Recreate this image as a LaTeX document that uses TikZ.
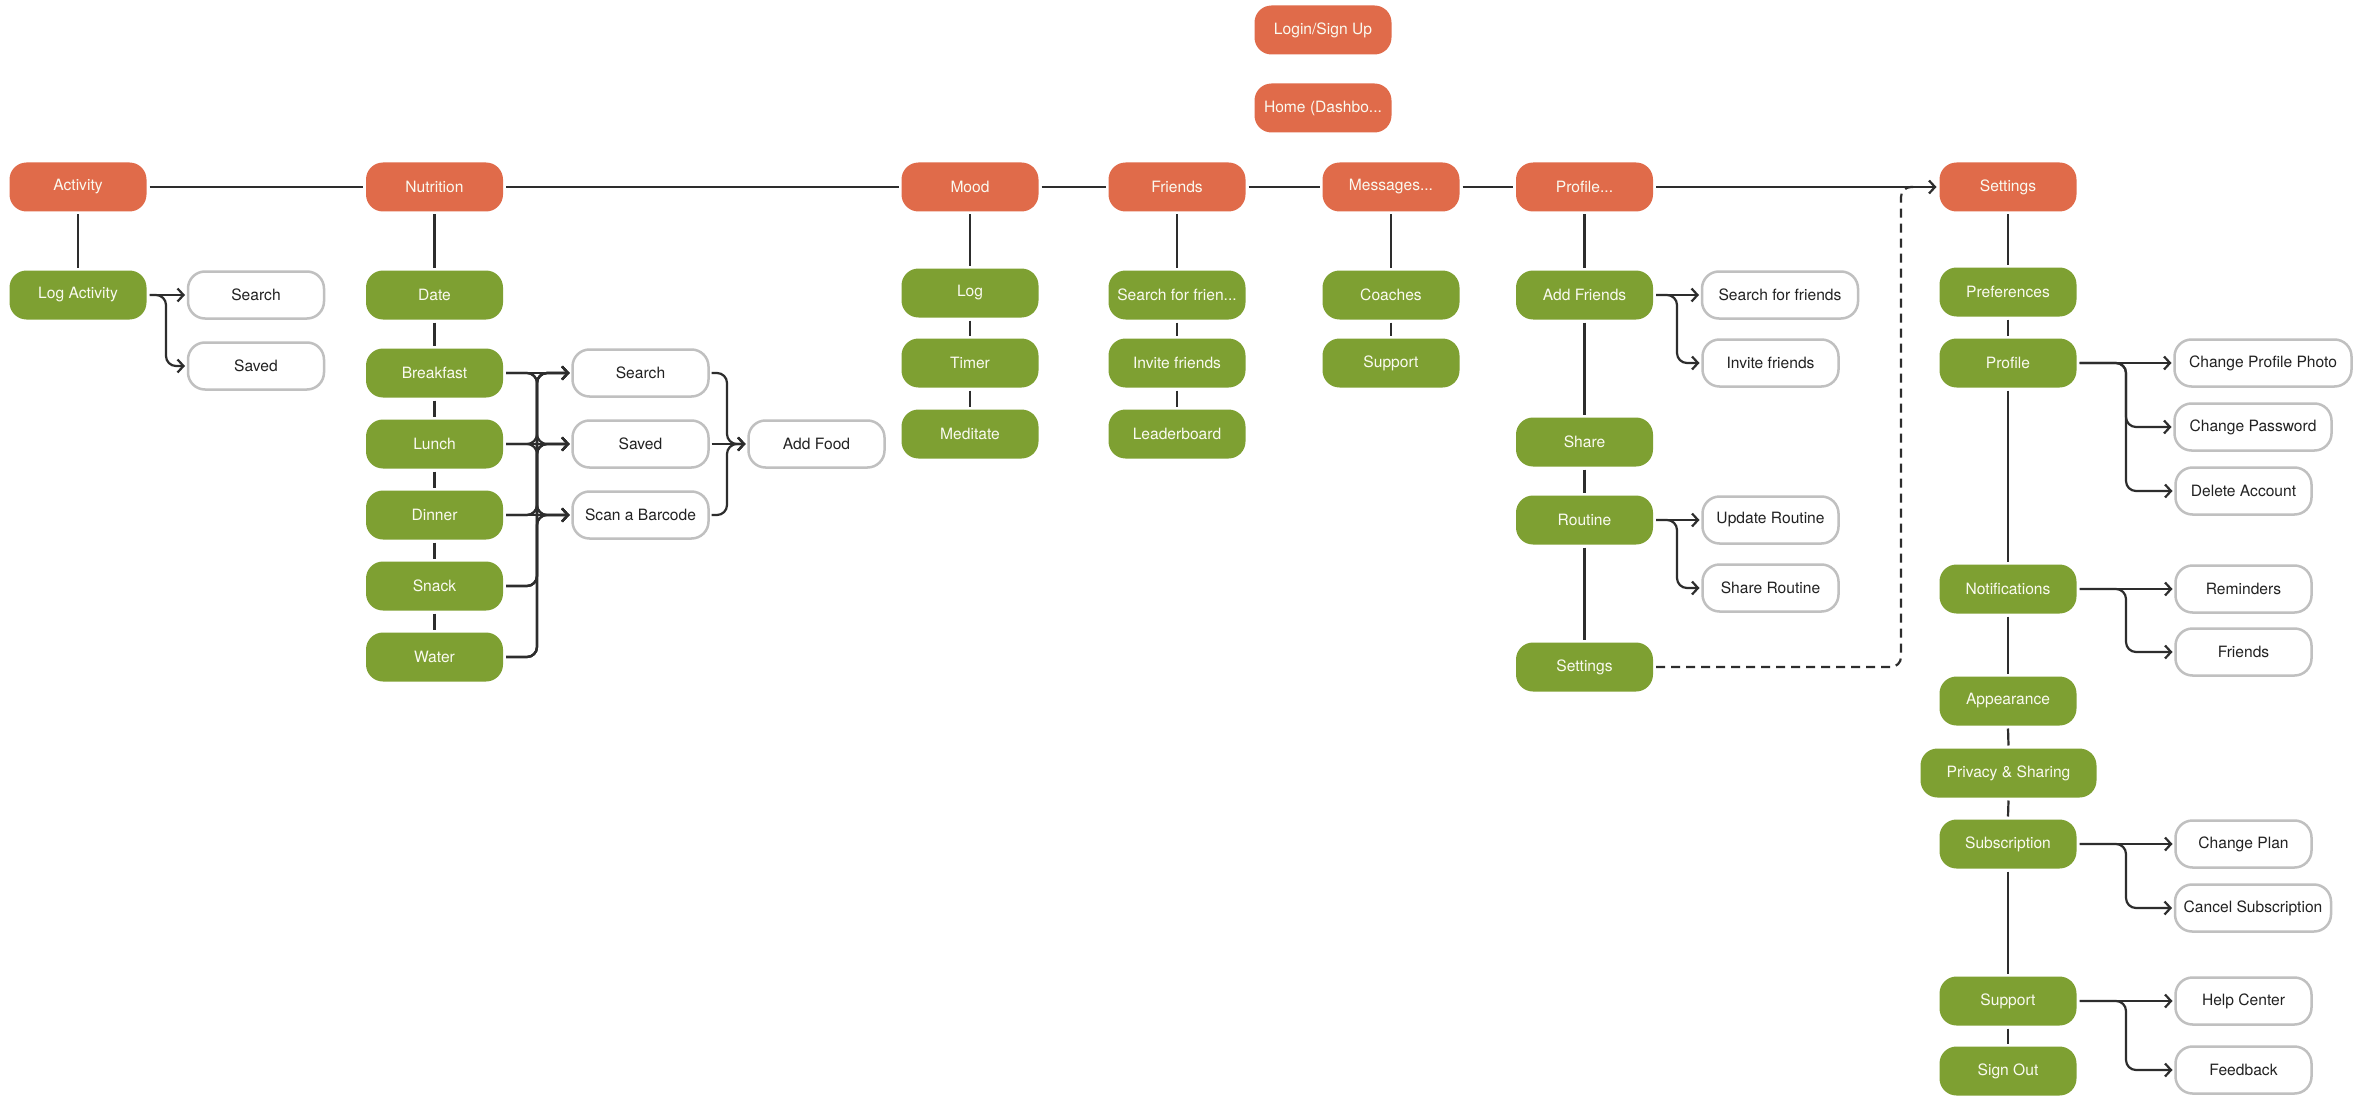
\documentclass[tikz,border=0pt]{standalone}
\usepackage{fontspec}
\setmainfont{TeX Gyre Heros}
\usetikzlibrary{arrows.meta,calc}
\definecolor{orangeC}{RGB}{224,107,74}
\definecolor{greenC}{RGB}{126,160,50}
\definecolor{grayB}{RGB}{192,192,192}
\definecolor{lineC}{RGB}{45,45,45}
\definecolor{textC}{RGB}{34,34,34}
\definecolor{lightT}{RGB}{250,250,240}
\tikzset{
  base/.style={rounded corners=17pt, minimum height=49pt, minimum width=137pt,
    align=center, font=\fontsize{15.6}{18}\selectfont, outer sep=3pt, inner xsep=5pt, inner ysep=0pt},
  obox/.style={base, fill=orangeC, text=lightT},
  gbox/.style={base, fill=greenC, text=lightT},
  wbox/.style={base, draw=grayB, line width=2.5pt, fill=white, text=textC,
    minimum height=47pt, minimum width=136pt},
  conn/.style={draw=lineC, line width=2.2pt, rounded corners=10pt},
  arr/.style={-{Straight Barb[length=6pt,width=13pt]}},
}
\newcommand{\brto}[3]{\draw[conn,arr] (#1.east) -- (#2 |- #1.east) -- (#2 |- #3.west) -- (#3.west);}
\newcommand{\strto}[2]{\draw[conn,arr] (#1.east) -- (#2.west);}
\begin{document}
\begin{tikzpicture}[x=1pt,y=-1pt]
\useasboundingbox[fill=white] (0,0) rectangle (2359,1102);
% top
\node[obox] (login) at (1323,30) {Login/Sign Up};
\node[obox] (home) at (1323,108) {Home (Dashbo...};
\node[obox] (activity) at (78,187) {Activity};
\node[obox] (nutrition) at (434.5,187) {Nutrition};
\node[obox] (mood) at (970,187) {Mood};
\node[obox] (friends) at (1177,187) {Friends};
\node[obox] (messages) at (1391,187) {Messages...};
\node[obox] (profile) at (1584.5,187) {Profile...};
\node[obox] (settings) at (2008,187) {Settings};
% activity
\node[gbox] (logact) at (78,295) {Log Activity};
\node[wbox] (asearch) at (256,295) {Search};
\node[wbox] (asaved) at (256,366) {Saved};
% nutrition
\node[gbox] (date) at (434.5,295) {Date};
\node[gbox] (breakfast) at (434.5,373) {Breakfast};
\node[gbox] (lunch) at (434.5,444) {Lunch};
\node[gbox] (dinner) at (434.5,515) {Dinner};
\node[gbox] (snack) at (434.5,586) {Snack};
\node[gbox] (water) at (434.5,657) {Water};
\node[wbox] (nsearch) at (640.5,373) {Search};
\node[wbox] (nsaved) at (640.5,444) {Saved};
\node[wbox] (nscan) at (640.5,515) {Scan a Barcode};
\node[wbox] (addfood) at (816.5,444) {Add Food};
% mood
\node[gbox] (mlog) at (970,293) {Log};
\node[gbox] (timer) at (970,363) {Timer};
\node[gbox] (meditate) at (970,434) {Meditate};
% friends
\node[gbox] (fsearch) at (1177,295) {Search for frien...};
\node[gbox] (finvite) at (1177,363) {Invite friends};
\node[gbox] (leader) at (1177,434) {Leaderboard};
% messages
\node[gbox] (coaches) at (1391,295) {Coaches};
\node[gbox] (msupport) at (1391,363) {Support};
% profile
\node[gbox] (addfr) at (1584.5,295) {Add Friends};
\node[wbox, minimum width=156pt] (psearch) at (1780,295) {Search for friends};
\node[wbox] (pinvite) at (1770.5,363) {Invite friends};
\node[gbox] (share) at (1584.5,442) {Share};
\node[gbox] (routine) at (1584.5,520) {Routine};
\node[wbox] (update) at (1770.5,520) {Update Routine};
\node[wbox] (shareR) at (1770.5,588) {Share Routine};
\node[gbox] (psettings) at (1584.5,667) {Settings};
% settings
\node[gbox] (prefs) at (2008,292) {Preferences};
\node[gbox] (sprofile) at (2008,363) {Profile};
\node[wbox, minimum width=177pt] (cpp) at (2263,363) {Change Profile Photo};
\node[wbox, minimum width=157pt] (cpw) at (2253,427) {Change Password};
\node[wbox] (del) at (2243.5,491) {Delete Account};
\node[gbox] (notif) at (2008,589) {Notifications};
\node[wbox] (remind) at (2243.5,589) {Reminders};
\node[wbox] (sfriends) at (2243.5,652) {Friends};
\node[gbox] (appear) at (2008,701) {Appearance};
\node[gbox, minimum width=176pt] (privacy) at (2008.5,773) {Privacy \& Sharing};
\node[gbox] (subs) at (2008,844) {Subscription};
\node[wbox] (plan) at (2243.5,844) {Change Plan};
\node[wbox, minimum width=156pt] (cancel) at (2253,908) {Cancel Subscription};
\node[gbox] (ssupport) at (2008,1001) {Support};
\node[wbox] (help) at (2243.5,1001) {Help Center};
\node[wbox] (feedback) at (2243.5,1070) {Feedback};
\node[gbox] (signout) at (2008,1071) {Sign Out};
% buses
\coordinate (busA) at (166,0);
\coordinate (busN) at (537,0);
\coordinate (busF) at (727,0);
\coordinate (busP) at (1677,0);
\coordinate (busS) at (2126,0);
\coordinate (busD) at (1901,0);
% top row lines
\draw[conn] (activity) -- (nutrition);
\draw[conn] (nutrition) -- (mood);
\draw[conn] (mood) -- (friends);
\draw[conn] (friends) -- (messages);
\draw[conn] (messages) -- (profile);
\draw[conn,arr] (profile) -- (settings);
% verticals
\foreach \a/\b in {activity/logact, nutrition/date, date/breakfast, breakfast/lunch, lunch/dinner, dinner/snack, snack/water,
  mood/mlog, mlog/timer, timer/meditate, friends/fsearch, fsearch/finvite, finvite/leader,
  messages/coaches, coaches/msupport, profile/addfr, addfr/share, share/routine, routine/psettings,
  settings/prefs, prefs/sprofile, sprofile/notif, notif/appear, appear/privacy, privacy/subs, subs/ssupport, ssupport/signout}
  \draw[conn] (\a.south) -- (\b.north);
% activity branches
\strto{logact}{asearch}
\brto{logact}{busA}{asaved}
% nutrition branches
\strto{breakfast}{nsearch}
\brto{breakfast}{busN}{nsaved}
\brto{breakfast}{busN}{nscan}
\brto{lunch}{busN}{nsearch}
\strto{lunch}{nsaved}
\brto{lunch}{busN}{nscan}
\brto{dinner}{busN}{nsearch}
\brto{dinner}{busN}{nsaved}
\strto{dinner}{nscan}
\foreach \m in {snack,water}{
  \brto{\m}{busN}{nsearch}
  \brto{\m}{busN}{nsaved}
  \brto{\m}{busN}{nscan}
}
\brto{nsearch}{busF}{addfood}
\strto{nsaved}{addfood}
\brto{nscan}{busF}{addfood}
% profile branches
\strto{addfr}{psearch}
\brto{addfr}{busP}{pinvite}
\strto{routine}{update}
\brto{routine}{busP}{shareR}
% settings branches
\strto{sprofile}{cpp}
\brto{sprofile}{busS}{cpw}
\brto{sprofile}{busS}{del}
\strto{notif}{remind}
\brto{notif}{busS}{sfriends}
\strto{subs}{plan}
\brto{subs}{busS}{cancel}
\strto{ssupport}{help}
\brto{ssupport}{busS}{feedback}
% dashed link
\draw[conn, dash pattern=on 9pt off 6pt] (psettings.east) -- (busD |- psettings.east) -- (busD |- settings.west) -- ($(busD |- settings.west)+(12,0)$);
\end{tikzpicture}
\end{document}
